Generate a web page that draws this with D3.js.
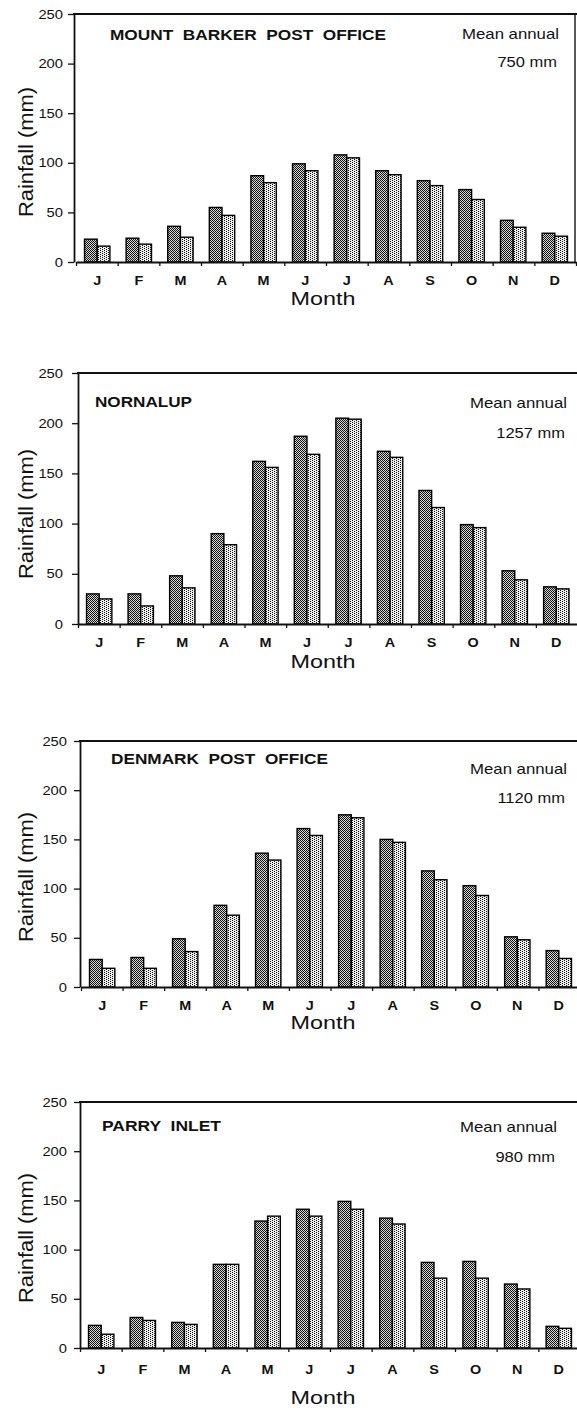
<!DOCTYPE html>
<html><head><meta charset="utf-8">
<script src="https://cdn.jsdelivr.net/npm/d3@7"></script>
<style>
body{margin:0;background:#fff}
svg{display:block}
text{font-family:"Liberation Sans",Arial,Helvetica,sans-serif;fill:#111}
</style>
</head><body>
<svg id="c" width="577" height="1408"></svg>
<script>
// ---------- data ----------
const months = ["J","F","M","A","M","J","J","A","S","O","N","D"];
const yTicks = [0, 50, 100, 150, 200, 250];
const stationNames = ["MOUNT  BARKER  POST  OFFICE", "NORNALUP", "DENMARK  POST  OFFICE", "PARRY  INLET"];
const meanAnnual = ["750 mm", "1257 mm", "1120 mm", "980 mm"];

const mountBarkerA = [23, 24, 36, 55, 87, 99, 108, 92, 82, 73, 42, 29];
const mountBarkerB = [16, 18, 25, 47, 80, 92, 105, 88, 77, 63, 35, 26];
const nornalupA    = [30, 30, 48, 90, 162, 187, 205, 172, 133, 99, 53, 37];
const nornalupB    = [25, 18, 36, 79, 156, 169, 204, 166, 116, 96, 44, 35];
const denmarkA     = [28, 30, 49, 83, 136, 161, 175, 150, 118, 103, 51, 37];
const denmarkB     = [19, 19, 36, 73, 129, 154, 172, 147, 109, 93, 48, 29];
const parryA       = [23, 31, 26, 85, 129, 141, 149, 132, 87, 88, 65, 22];
const parryB       = [14, 28, 24, 85, 134, 134, 141, 126, 71, 71, 60, 20];

const seriesA = [mountBarkerA, nornalupA, denmarkA, parryA];
const seriesB = [mountBarkerB, nornalupB, denmarkB, parryB];

// ---------- layout ----------
const layout = [
  {top:14,   bottom:262,  axisX:74, left:76, right:576, ylabRight:63, titleX:110, titleY:35,   titleW:276,
   meanX:559, meanY:34,   totX:557, totY:62,   tickY:281,  monthY:297,  border:true},
  {top:373,  bottom:624,  axisX:78, left:78, right:577.5, ylabRight:63, titleX:95,  titleY:402,  titleW:97,
   meanX:567, meanY:403,  totX:565, totY:433,  tickY:643,  monthY:660,  border:false},
  {top:741,  bottom:987,  axisX:80, left:81, right:580, ylabRight:67, titleX:111, titleY:759,  titleW:217,
   meanX:567, meanY:769,  totX:565, totY:798,  tickY:1006, monthY:1021, border:false},
  {top:1102, bottom:1348, axisX:80, left:80, right:580, ylabRight:67, titleX:102, titleY:1126, titleW:119,
   meanX:557, meanY:1127, totX:555, totY:1157, tickY:1370, monthY:1396, border:false}
];

const svg = d3.select("#c");
const defs = svg.append("defs");
// dark checker pattern
const pd = defs.append("pattern").attr("id","pd").attr("width",2).attr("height",2).attr("patternUnits","userSpaceOnUse");
pd.append("rect").attr("width",2).attr("height",2).attr("fill","#d8d8d8");
pd.append("rect").attr("width",1).attr("height",1).attr("fill","#111");
pd.append("rect").attr("x",1).attr("y",1).attr("width",1).attr("height",1).attr("fill","#111");
// light dot pattern
const pl = defs.append("pattern").attr("id","pl").attr("width",4).attr("height",2).attr("patternUnits","userSpaceOnUse");
pl.append("rect").attr("width",4).attr("height",2).attr("fill","#ececec");
pl.append("rect").attr("width",1).attr("height",1).attr("fill","#111");
pl.append("rect").attr("x",2).attr("y",1).attr("width",1).attr("height",1).attr("fill","#111");

function stretch(sel, f) {
  sel.each(function(){
    const n = this.getComputedTextLength();
    d3.select(this).attr("textLength", n * f).attr("lengthAdjust","spacingAndGlyphs");
  });
}

layout.forEach((L, i) => {
  const g = svg.append("g");
  const y = d3.scaleLinear().domain([0, 250]).range([L.bottom, L.top]);
  const x = d3.scaleBand().domain(d3.range(12)).range([L.left, L.right]).paddingInner(0.39).paddingOuter(0.205);
  const xs = d3.scaleBand().domain(["a","b"]).range([0, x.bandwidth()]);
  const xl = d3.scaleLinear().domain([0, 12]).range([L.left, L.right]);

  const A = seriesA[i], B = seriesB[i];
  const bars = d3.range(12).flatMap(m => [{m, k:"a", v:A[m]}, {m, k:"b", v:B[m]}]);

  g.selectAll("rect.bar").data(bars).join("rect")
    .attr("class","bar")
    .attr("x", d => x(d.m) + xs(d.k))
    .attr("width", xs.bandwidth())
    .attr("y", d => y(d.v))
    .attr("height", d => y(0) - y(d.v))
    .attr("fill", d => d.k === "a" ? "url(#pd)" : "url(#pl)")
    .attr("stroke", "#000").attr("stroke-width", 1.4);

  // top frame line
  g.append("line").attr("x1", L.axisX - 1).attr("x2", 577).attr("y1", L.top).attr("y2", L.top)
    .attr("stroke","#111").attr("stroke-width",1.8);
  if (L.border) {
    g.append("line").attr("x1", 575).attr("x2", 575).attr("y1", L.top).attr("y2", L.bottom)
      .attr("stroke","#111").attr("stroke-width",1.4);
  }

  // y axis
  const ya = g.append("g").attr("transform", `translate(${L.axisX},0)`)
    .call(d3.axisLeft(y).tickValues(yTicks).tickSize(6).tickSizeOuter(0).tickPadding(L.axisX - 6 - L.ylabRight));
  ya.select(".domain").attr("stroke","#111").attr("stroke-width",1.8);
  ya.selectAll(".tick line").attr("stroke","#111").attr("stroke-width",1.3);
  ya.selectAll(".tick text").attr("font-size", 12.5).attr("fill","#111")
    .style("font-family",'"Liberation Sans",Arial,sans-serif');
  stretch(ya.selectAll(".tick text"), 1.18);

  // x axis (ticks at month boundaries)
  const xa = g.append("g").attr("transform", `translate(0,${L.bottom})`)
    .call(d3.axisBottom(xl).tickValues(d3.range(13)).tickSize(4).tickSizeOuter(0).tickFormat(""));
  xa.select(".domain").attr("stroke","#111").attr("stroke-width",1.8);
  xa.selectAll(".tick line").attr("stroke","#111").attr("stroke-width",1.3);

  // month labels
  const ml = g.selectAll("text.mon").data(months).join("text")
    .attr("class","mon")
    .attr("x", (d, m) => x(m) + x.bandwidth() / 2)
    .attr("y", L.tickY + 3.5)
    .attr("text-anchor","middle")
    .attr("font-size", 12)
    .attr("font-weight","bold")
    .text(d => d);
  stretch(ml, 1.2);

  // axis titles
  g.append("text").attr("x", 323).attr("y", L.monthY + 8)
    .attr("text-anchor","middle").attr("font-size", 19)
    .attr("textLength", 65).attr("lengthAdjust","spacingAndGlyphs")
    .text("Month");
  g.append("text")
    .attr("transform", `translate(33,${L.bottom - 110}) rotate(-90)`)
    .attr("text-anchor","middle").attr("font-size", 20)
    .attr("textLength", 130).attr("lengthAdjust","spacingAndGlyphs")
    .text("Rainfall (mm)");

  // station title
  g.append("text").attr("x", L.titleX).attr("y", L.titleY + 5.4)
    .attr("font-size", 15).attr("font-weight","bold")
    .style("white-space","pre")
    .attr("textLength", L.titleW).attr("lengthAdjust","spacingAndGlyphs")
    .text(stationNames[i]);

  // mean annual
  g.append("text").attr("x", L.meanX).attr("y", L.meanY + 5.4)
    .attr("text-anchor","end").attr("font-size", 15)
    .attr("textLength", 97).attr("lengthAdjust","spacingAndGlyphs")
    .text("Mean annual");
  const tot = g.append("text").attr("x", L.totX).attr("y", L.totY + 5.4)
    .attr("text-anchor","end").attr("font-size", 15)
    .text(meanAnnual[i]);
  stretch(tot, 1.1);
});
</script>
</body></html>
